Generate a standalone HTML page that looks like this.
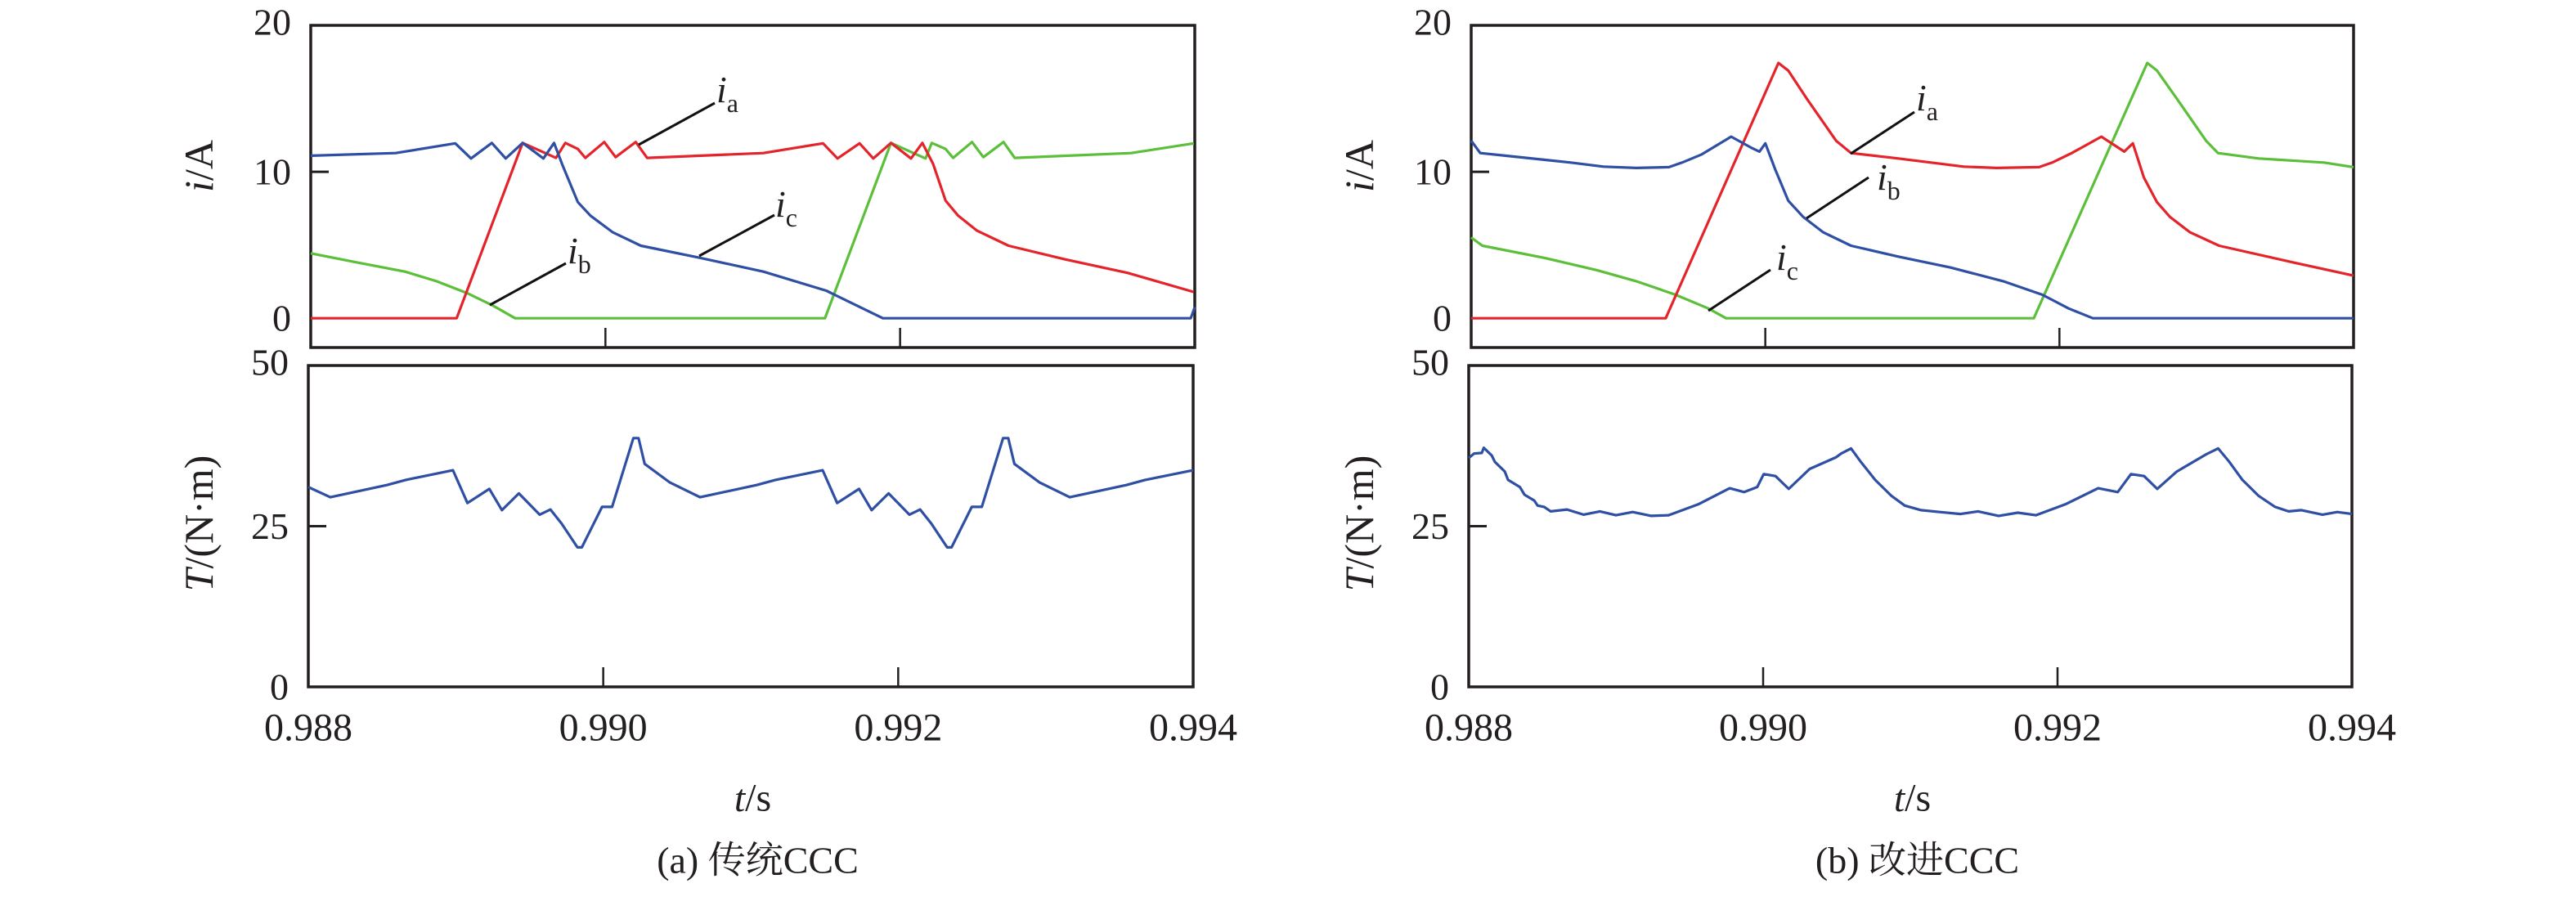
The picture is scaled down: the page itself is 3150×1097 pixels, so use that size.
<!DOCTYPE html>
<html><head><meta charset="utf-8">
<style>
html,body{margin:0;padding:0;background:#fff;}
svg text{font-family:"Liberation Serif","Noto Serif CJK SC","Noto Sans CJK SC",serif;fill:#231f20;}
</style></head>
<body>
<svg id="chart" width="3150" height="1092" viewBox="0 0 3150 1092" xmlns="http://www.w3.org/2000/svg"></svg>
<script>
// ---- data (time in s, currents in A, torque in N·m) ----
const xTicks = [0.988, 0.990, 0.992, 0.994];
const xTickLabels = ["0.988", "0.990", "0.992", "0.994"];
const iTicks = [0, 10, 20];
const tTicks = [0, 25, 50];

// (a) conventional CCC
const aIaT = [0,0.990,1.438,1.664,1.728,1.813,1.864,1.992,2.069,2.206,2.283,3.072,3.477,3.575,3.725,3.818,3.938,4.074,4.151,4.224,4.309,4.394,4.522,4.736,5.120,5.546,5.994];
const aIaV = [0,0,11.97,10.95,11.97,11.56,10.95,12.03,11.0,12.03,10.95,11.28,11.94,10.91,11.94,10.91,11.97,10.91,11.97,10.54,8.03,7.0,5.98,4.95,4.02,3.09,1.79];
const aIbT = [0,0.576,0.981,1.088,1.229,1.323,1.438,1.579,1.651,1.707,1.813,1.899,2.048,2.240,2.645,3.072,3.499,3.883,5.973,6.0];
const aIbV = [11.1,11.28,11.94,10.91,11.97,10.91,11.97,10.91,11.97,10.5,7.93,7.0,5.88,4.95,4.12,3.18,1.88,0,0,0.76];
const aIcT = [0,0.299,0.640,0.853,1.067,1.237,1.387,3.490,3.938,4.173,4.215,4.309,4.360,4.488,4.565,4.702,4.778,5.568,5.994];
const aIcV = [4.43,3.84,3.18,2.53,1.69,0.86,0,0,11.97,10.91,11.97,11.56,10.95,12.03,11.0,12.03,10.95,11.28,11.94];
const aTqT = [0,0.149,0.533,0.661,0.981,1.079,1.228,1.313,1.428,1.569,1.642,1.718,1.825,1.855,1.992,2.060,2.204,2.239,2.281,2.452,2.656,3.040,3.168,3.488,3.586,3.735,3.820,3.935,4.076,4.149,4.225,4.332,4.362,4.499,4.567,4.711,4.746,4.788,4.959,5.163,5.547,5.675,6.0];
const aTqV = [31.1,29.5,31.4,32.2,33.7,28.6,30.8,27.5,30.1,26.8,27.6,25.4,21.7,21.7,28.0,28.0,38.7,38.7,34.7,31.8,29.5,31.4,32.2,33.7,28.6,30.8,27.5,30.1,26.8,27.6,25.4,21.7,21.7,28.0,28.0,38.7,38.7,34.7,31.8,29.5,31.4,32.2,33.7];

// (b) improved CCC
const bIaT = [0,1.323,2.089,2.156,2.281,2.481,2.583,2.904,3.349,3.572,3.862,3.951,4.084,4.285,4.441,4.499,4.574,4.663,4.752,4.886,5.086,5.576,6.0];
const bIaV = [0,0,17.43,16.91,15.01,12.12,11.28,10.91,10.35,10.26,10.32,10.63,11.28,12.40,11.38,11.94,9.61,7.93,6.91,5.88,4.95,3.84,2.91];
const bIbT = [0,0.062,0.232,0.677,0.900,1.122,1.345,1.434,1.568,1.768,1.902,1.960,2.000,2.067,2.156,2.258,2.392,2.583,2.904,3.260,3.617,3.884,4.062,4.227,6.0];
const bIbV = [12.12,11.28,11.10,10.63,10.35,10.26,10.32,10.63,11.19,12.40,11.66,11.38,11.94,10.17,8.03,6.91,5.88,4.95,4.21,3.46,2.53,1.60,0.67,0,0];
const bIcT = [0,0.076,0.499,0.855,1.122,1.390,1.612,1.733,3.826,4.597,4.663,4.797,4.997,5.078,5.354,5.799,6.0];
const bIcV = [5.51,4.95,4.12,3.28,2.53,1.60,0.67,0,0,17.43,16.91,15.01,12.12,11.28,10.91,10.63,10.32];
const bTqT = [0,0.036,0.089,0.102,0.156,0.178,0.245,0.267,0.347,0.379,0.445,0.468,0.512,0.557,0.668,0.780,0.891,1.0,1.114,1.240,1.358,1.559,1.773,1.871,1.960,2.004,2.084,2.174,2.316,2.494,2.530,2.597,2.664,2.761,2.873,2.962,3.073,3.200,3.341,3.460,3.600,3.730,3.853,4.053,4.276,4.409,4.499,4.588,4.677,4.810,5.011,5.091,5.167,5.256,5.367,5.478,5.570,5.657,5.800,5.900,6.0];
const bTqV = [35.6,36.3,36.4,37.2,36.0,35.0,33.5,32.2,31.1,29.9,29.0,28.2,28.0,27.3,27.6,26.8,27.3,26.7,27.2,26.6,26.7,28.4,30.9,30.3,31.1,33.1,32.8,30.8,33.9,35.7,36.3,37.1,35.0,32.2,29.7,28.2,27.5,27.2,26.9,27.3,26.6,27.1,26.7,28.4,30.9,30.3,33.1,32.8,30.8,33.5,36.2,37.1,35.0,32.2,29.7,28.0,27.3,27.5,26.8,27.2,26.9];

// ---- rendering ----
const NS = "http://www.w3.org/2000/svg";
const svg = document.getElementById("chart");
const RED = "#e3242b", BLUE = "#2e4fa3", GREEN = "#5cbf3a", INK = "#231f20";

function mk(tag, attrs, parent) {
  const e = document.createElementNS(NS, tag);
  for (const k in attrs) e.setAttribute(k, attrs[k]);
  (parent || svg).appendChild(e);
  return e;
}
function txt(x, y, s, size, anchor, parent, italic) {
  const t = mk("text", {x: x, y: y, "font-size": size, "text-anchor": anchor || "middle", "dominant-baseline": "central"}, parent);
  if (italic) t.setAttribute("font-style", "italic");
  t.textContent = s;
  return t;
}

function panel(name, x0, x1, y0, y1, vmin, vmax, ticks, midTick) {
  const g = mk("g", {});
  
  
  const sx = t => x0 + (t - 0.988) / 0.006 * (x1 - x0);
  const sy = v => y1 - (v - vmin) / (vmax - vmin) * (y1 - y0);
  const box = mk("rect", {x: x0, y: y0, width: x1 - x0, height: y1 - y0, fill: "none", stroke: INK, "stroke-width": 3.5}, g);
  
  
  [xTicks[1], xTicks[2]].forEach(t => {
    const l = mk("line", {x1: sx(t), x2: sx(t), y1: y1, y2: y1 - 24, stroke: INK, "stroke-width": 2.5}, g);
    
    
  });
  const l = mk("line", {x1: x0, x2: x0 + 22, y1: sy(midTick), y2: sy(midTick), stroke: INK, "stroke-width": 3}, g);
  
  
  ticks.forEach(v => {
    const t = txt(x0 - 24, sy(v) - (v === vmax ? 4 : 0), String(v), 46, "end", g);
    
    
  });
  return {g, sx, sy};
}

function series(p, T, V, color, name) {
  let d = "";
  for (let i = 0; i < T.length; i++) {
    d += (i ? "L" : "M") + p.sx(0.988 + T[i] / 1000).toFixed(1) + "," + p.sy(V[i]).toFixed(1);
  }
  const path = mk("path", {d: d, fill: "none", stroke: color, "stroke-width": 3.2, "stroke-linejoin": "round"}, p.g);
  
  
}

function annot(x1, y1, x2, y2, lx, ly, sub, name) {
  const g = mk("g", {});
  
  
  mk("line", {x1: x1, y1: y1, x2: x2, y2: y2, stroke: "#111", "stroke-width": 3}, g);
  const t = mk("text", {x: lx, y: ly, "font-size": 46, "font-style": "italic"}, g);
  t.textContent = "i";
  const s = mk("tspan", {"font-size": 32, "font-style": "normal", dy: 12}, t);
  s.textContent = sub;
}

function figure(prefix, x0, x1, TA, TB, TC, VA, VB, VC, TQT, TQV, caption) {
  const top = panel(prefix + "-current-panel", x0, x1, 31, 425, -2, 20, iTicks, 10);
  series(top, TC, VC, GREEN, prefix + "-ic-line");
  series(top, TA, VA, RED, prefix + "-ia-line");
  series(top, TB, VB, BLUE, prefix + "-ib-line");
  const bot = panel(prefix + "-torque-panel", x0 - 3, x1 - 2, 447, 840, 0, 50, tTicks, 25);
  series(bot, TQT, TQV, BLUE, prefix + "-torque-line");
  xTicks.forEach((t, i) => {
    const e = txt(bot.sx(t), 890, xTickLabels[i], 48, "middle");
    
    
  });
  const cx = (x0 + x1) / 2;
  const xl = mk("text", {x: cx, y: 976, "font-size": 48, "text-anchor": "middle", "dominant-baseline": "central"});
  
  
  xl.innerHTML = '<tspan font-style="italic">t</tspan>/s';
  const cap = txt(cx + 6, 1052, caption, 46, "middle");
  
  
  const yl1 = mk("text", {x: 0, y: 0, "font-size": 50, "text-anchor": "middle", "dominant-baseline": "central", transform: "translate(" + (x0 - 137) + ",203) rotate(-90)"});
  
  
  yl1.innerHTML = '<tspan font-style="italic">i</tspan>/A';
  const yl2 = mk("text", {x: 0, y: 0, "font-size": 50, "text-anchor": "middle", "dominant-baseline": "central", transform: "translate(" + (x0 - 137) + ",640) rotate(-90)"});
  
  
  yl2.innerHTML = '<tspan font-style="italic">T</tspan>/(N·m)';
}

figure("conventional", 380, 1461, aIaT, aIbT, aIcT, aIaV, aIbV, aIcV, aTqT, aTqV, "(a) 传统CCC");
figure("improved", 1799, 2878, bIaT, bIbT, bIcT, bIaV, bIbV, bIcV, bTqT, bTqV, "(b) 改进CCC");

annot(874, 126, 781, 177, 876, 125, "a", "label-ia-a");
annot(947, 263, 855, 313, 948, 265, "c", "label-ic-a");
annot(692, 322, 599, 373, 694, 322, "b", "label-ib-a");
annot(2341, 137, 2263, 188, 2343, 135, "a", "label-ia-b");
annot(2285, 217, 2209, 267, 2295, 232, "b", "label-ib-b");
annot(2165, 330, 2089, 380, 2172, 330, "c", "label-ic-b");
</script>
</body></html>
